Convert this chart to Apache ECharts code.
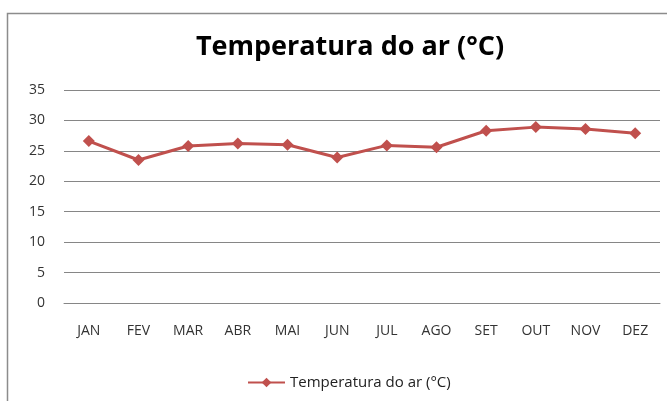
<!DOCTYPE html>
<html>
<head>
<meta charset="utf-8">
<script src="https://cdn.jsdelivr.net/npm/echarts@6/dist/echarts.min.js"></script>
<style>
  html, body { margin: 0; padding: 0; background: #fff; }
  #main { width: 667px; height: 401px; }
</style>
</head>
<body>
<div id="main"></div>
<script>
// dados
var meses = ['JAN', 'FEV', 'MAR', 'ABR', 'MAI', 'JUN', 'JUL', 'AGO', 'SET', 'OUT', 'NOV', 'DEZ'];
var temperatura = [26.6, 23.5, 25.8, 26.2, 26.0, 23.9, 25.9, 25.6, 28.3, 28.9, 28.6, 27.9];
var nomeSerie = 'Temperatura do ar (°C)';

var chart = echarts.init(document.getElementById('main'));
chart.setOption({
  backgroundColor: '#fff',
  animation: false,
  graphic: [{
    type: 'rect',
    shape: { x: 7.5, y: 13.5, width: 700, height: 420 },
    style: { fill: 'none', stroke: '#8c8c8c', lineWidth: 1.5 },
    z: -1
  }],
  title: {
    text: nomeSerie,
    left: 345,
    textAlign: 'center',
    top: 29,
    textStyle: {
      fontFamily: 'Open Sans',
      fontWeight: 'bold',
      fontSize: 27,
      color: '#000'
    }
  },
  legend: {
    data: [nomeSerie],
    left: 242,
    top: 370,
    itemWidth: 37,
    itemHeight: 12,
    itemGap: 3,
    textStyle: { fontFamily: 'Open Sans', fontSize: 15, color: '#222' }
  },
  grid: { left: 64, right: 7, top: 90, bottom: 98, containLabel: false },
  xAxis: {
    type: 'category',
    data: meses,
    boundaryGap: true,
    axisLine: { show: true, lineStyle: { color: '#868686' } },
    axisTick: { show: false },
    axisLabel: { fontFamily: 'Open Sans', fontSize: 14, color: '#333', margin: 21 }
  },
  yAxis: {
    type: 'value',
    min: 0,
    max: 35,
    interval: 5,
    axisLine: { show: false },
    axisTick: { show: false },
    axisLabel: { fontFamily: 'Open Sans', fontSize: 14, color: '#333', margin: 19 },
    splitLine: { lineStyle: { color: '#868686', width: 1.2 } }
  },
  series: [{
    name: nomeSerie,
    type: 'line',
    data: temperatura,
    symbol: 'diamond',
    symbolSize: 12,
    lineStyle: { color: '#C0504D', width: 3 },
    itemStyle: { color: '#C0504D' }
  }]
});
</script>
</body>
</html>
